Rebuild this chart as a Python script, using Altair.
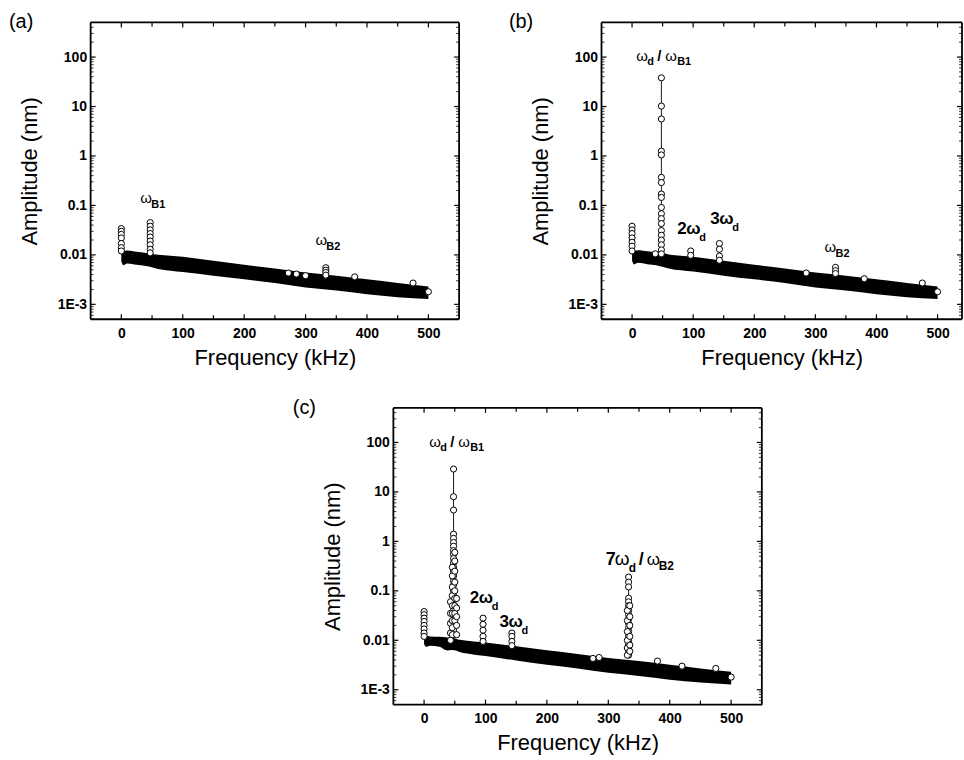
import altair as alt
import pandas as pd

FONT = "Liberation Sans"

# ---------------- data ----------------
# noise band (lower / upper envelope of the dense spectrum), panel (a)
band_freq_a = [0, 3, 10, 25, 45, 60, 100, 150, 200, 250, 300, 350, 400, 450, 500]
band_upper_a = [0.0112, 0.0120, 0.0123, 0.0116, 0.0107, 0.0101, 0.0092, 0.0076, 0.0063, 0.0053, 0.0044, 0.0038, 0.0032, 0.0027, 0.0023]
band_lower_a = [0.0074, 0.0062, 0.0067, 0.0063, 0.0058, 0.0052, 0.0045, 0.0038, 0.0032, 0.0027, 0.0022, 0.0019, 0.0016, 0.0014, 0.00128]

# panel (b)
band_freq_b = [0, 3, 10, 25, 40, 48, 60, 100, 150, 200, 250, 300, 350, 400, 450, 500]
band_upper_b = [0.0112, 0.0120, 0.0124, 0.0118, 0.0112, 0.0110, 0.0102, 0.0092, 0.0076, 0.0063, 0.0053, 0.0044, 0.0038, 0.0032, 0.0027, 0.0023]
band_lower_b = [0.0076, 0.0064, 0.0069, 0.0065, 0.0062, 0.0058, 0.0053, 0.0046, 0.0038, 0.0032, 0.0027, 0.0022, 0.0019, 0.0016, 0.0014, 0.00128]

# panel (c)
band_freq_c = [0, 3, 10, 25, 38, 45, 52, 58, 70, 100, 150, 200, 250, 300, 350, 400, 450, 500]
band_upper_c = [0.0128, 0.0125, 0.0120, 0.0118, 0.0114, 0.0112, 0.0108, 0.0102, 0.0098, 0.0090, 0.0076, 0.0063, 0.0053, 0.0044, 0.0038, 0.0032, 0.0027, 0.0023]
band_lower_c = [0.0084, 0.0074, 0.0078, 0.0074, 0.0062, 0.0064, 0.0062, 0.0058, 0.0054, 0.0048, 0.0039, 0.0032, 0.0027, 0.0022, 0.0019, 0.0016, 0.0014, 0.00128]

# peaks: (frequency kHz, amplitudes of the stacked circles)
peaks_a = [
    (0, [0.034, 0.030, 0.026, 0.022, 0.017, 0.014, 0.012]),
    (47, [0.045, 0.038, 0.032, 0.027, 0.023, 0.019, 0.016, 0.013, 0.011]),
    (333, [0.0055, 0.0049, 0.0044, 0.0039]),
]
peaks_b = [
    (0, [0.038, 0.032, 0.027, 0.022, 0.018, 0.015, 0.012]),
    (48, [38, 10.2, 5.6, 1.25, 1.05, 0.37, 0.29, 0.17, 0.145, 0.091, 0.068, 0.054, 0.043, 0.031, 0.025, 0.020, 0.016, 0.0126, 0.0105]),
    (96, [0.012, 0.0098]),
    (143, [0.017, 0.013, 0.0095, 0.0078]),
    (333, [0.0056, 0.0048, 0.0042]),
]
peaks_c = [
    (0, [0.038, 0.033, 0.028, 0.024, 0.020, 0.017, 0.014, 0.012]),
    (48, [29, 8, 4.3, 1.4, 1.15, 0.95, 0.8, 0.65, 0.55, 0.45, 0.37, 0.3, 0.25, 0.2, 0.16, 0.13, 0.1, 0.08, 0.065, 0.05, 0.04, 0.032, 0.025, 0.02, 0.016, 0.013]),
    (96, [0.028, 0.021, 0.016, 0.012, 0.0095]),
    (143, [0.014, 0.012, 0.0095, 0.0078]),
    (333, [0.19, 0.15, 0.12, 0.071, 0.06, 0.05, 0.04, 0.033, 0.027, 0.022, 0.018, 0.015, 0.012, 0.010, 0.0085, 0.007, 0.006, 0.005]),
]
# flanking circles of the broad peaks in (c)
sides_c = [
    (43, [0.06, 0.035, 0.022, 0.014, 0.010]),
    (46, [0.3, 0.2, 0.12, 0.08, 0.05, 0.035, 0.025, 0.018, 0.013]),
    (50, [0.6, 0.4, 0.25, 0.15, 0.1, 0.07, 0.05, 0.035, 0.025]),
    (53, [0.07, 0.045, 0.03, 0.02, 0.013]),
    (331, [0.04, 0.025, 0.015, 0.010, 0.007, 0.005]),
    (335, [0.05, 0.03, 0.02, 0.012, 0.008, 0.006]),
]
# isolated circles above the band
outliers_a = [(272, 0.0043), (285, 0.0041), (300, 0.0038), (380, 0.0036), (475, 0.0027), (500, 0.0018)]
outliers_b = [(38, 0.0105), (285, 0.0043), (380, 0.0033), (475, 0.0027), (500, 0.0018)]
outliers_c = [(275, 0.0043), (285, 0.0045), (380, 0.0038), (420, 0.0030), (475, 0.0027), (500, 0.0018)]

# annotation anchors: (kind, frequency, amplitude)
ann_a = [("w|B1", 31, 0.112), ("w|B2", 316, 0.016)]
ann_b = [("wd/w|B1", 7, 83), ("n|2", 74, 0.027), ("n|3", 128, 0.042), ("w|B2", 315, 0.0112)]
ann_c = [("wd/w|B1", 8.6, 80), ("n|2", 74.5, 0.0575), ("n|3", 123, 0.0189), ("7wd/w|B2", 296, 0.331)]

x_ticks = [0, 100, 200, 300, 400, 500]
x_minor = [50, 150, 250, 350, 450]
y_ticks = [0.001, 0.01, 0.1, 1, 10, 100]
y_minor = [k * 10.0 ** e for e in range(-4, 3) for k in range(2, 10) if 5e-4 <= k * 10.0 ** e <= 500]

H = 298


def segments(kind):
    name, sub = kind.split("|")
    if name == "w":
        return [("ω", 0, 0, 15, "normal"), (sub, 11, 5, 11, "bold")]
    if name == "wd/w":
        return [("ω", 0, 0, 15, "normal"), ("d", 11, 4, 11, "bold"), ("/", 21, 0, 15, "bold"),
                ("ω", 29, 0, 15, "normal"), (sub, 41, 4, 11, "bold")]
    if name == "n":
        return [(sub, 0, 0, 17, "bold"), ("ω", 9, 0, 17, "bold"), ("d", 22, 7, 11, "bold")]
    if name == "7wd/w":
        return [("7", 0, 0, 18, "bold"), ("ω", 9, 0, 19, "normal"), ("d", 23, 7, 12, "bold"),
                ("/", 33, 0, 18, "bold"), ("ω", 41, 0, 17, "normal"), (sub, 53, 5, 12, "bold")]
    return []


def panel(label, label_dx, W, xmax, bf, blo, bhi, peaks, sides, outliers, anns):
    xs = alt.Scale(domain=[-50, xmax], nice=False, zero=False)
    ys = alt.Scale(type="log", domain=[5e-4, 500], nice=False)
    xaxis = alt.Axis(values=x_ticks, format="d", title="Frequency (kHz)")
    yaxis = alt.Axis(values=y_ticks, title="Amplitude (nm)",
                     labelExpr="datum.value < 0.005 ? '1E-3' : format(datum.value, '~g')")

    def X():
        return alt.X("f:Q", scale=xs, axis=xaxis)

    def Y():
        return alt.Y("amp:Q", scale=ys, axis=yaxis)

    band_df = pd.DataFrame({"f": bf, "amp": blo, "amp2": bhi})
    layers = [
        alt.Chart(band_df).mark_area(color="black", opacity=1, interpolate="monotone")
        .encode(x=X(), y=Y(), y2=alt.Y2("amp2:Q"))
    ]
    line_rows, pt_rows = [], []
    for i, (f, amps) in enumerate(peaks):
        for a in amps:
            line_rows.append({"f": f, "amp": a, "pid": i})
            pt_rows.append({"f": f, "amp": a})
    for f, amps in sides:
        for a in amps:
            pt_rows.append({"f": f, "amp": a})
    for f, a in outliers:
        pt_rows.append({"f": f, "amp": a})
    layers.append(
        alt.Chart(pd.DataFrame(line_rows)).mark_line(color="black", strokeWidth=0.9)
        .encode(x=X(), y=Y(), detail="pid:N", order="amp:Q")
    )
    layers.append(
        alt.Chart(pd.DataFrame(pt_rows)).mark_point(shape="circle", size=38, filled=True, fill="white",
                                                     stroke="black", strokeWidth=1, opacity=1)
        .encode(x=X(), y=Y())
    )
    # inward ticks on all four sides
    xt = pd.DataFrame({"f": x_ticks})
    xm = pd.DataFrame({"f": x_minor})
    yt = pd.DataFrame({"amp": y_ticks})
    ym = pd.DataFrame({"amp": y_minor})
    rule = dict(color="black", strokeWidth=1.2)
    layers += [
        alt.Chart(xt).mark_rule(**rule).encode(x=X(), y=alt.value(H), y2=alt.value(H - 5)),
        alt.Chart(xt).mark_rule(**rule).encode(x=X(), y=alt.value(0), y2=alt.value(5)),
        alt.Chart(xm).mark_rule(**rule).encode(x=X(), y=alt.value(H), y2=alt.value(H - 4)),
        alt.Chart(xm).mark_rule(**rule).encode(x=X(), y=alt.value(0), y2=alt.value(4)),
        alt.Chart(yt).mark_rule(**rule).encode(y=Y(), x=alt.value(0), x2=alt.value(5)),
        alt.Chart(yt).mark_rule(**rule).encode(y=Y(), x=alt.value(W), x2=alt.value(W - 5)),
        alt.Chart(ym).mark_rule(color="black", strokeWidth=0.8).encode(y=Y(), x=alt.value(0), x2=alt.value(3)),
        alt.Chart(ym).mark_rule(color="black", strokeWidth=0.8).encode(y=Y(), x=alt.value(W), x2=alt.value(W - 3)),
    ]
    # frame: four rules
    one = pd.DataFrame({"t": [0]})
    frame = dict(color="black", strokeWidth=1.8)
    layers += [
        alt.Chart(one).mark_rule(**frame).encode(x=alt.value(0), x2=alt.value(W), y=alt.value(0), y2=alt.value(0)),
        alt.Chart(one).mark_rule(**frame).encode(x=alt.value(0), x2=alt.value(W), y=alt.value(H), y2=alt.value(H)),
        alt.Chart(one).mark_rule(**frame).encode(x=alt.value(0), x2=alt.value(0), y=alt.value(0), y2=alt.value(H)),
        alt.Chart(one).mark_rule(**frame).encode(x=alt.value(W), x2=alt.value(W), y=alt.value(0), y2=alt.value(H)),
    ]
    # annotations
    for kind, f, a in anns:
        adf = pd.DataFrame({"f": [f], "amp": [a]})
        for text, dx, dy, size, weight in segments(kind):
            layers.append(
                alt.Chart(adf).mark_text(text=text, align="left", baseline="alphabetic", dx=dx, dy=dy,
                                         fontSize=size, fontWeight=weight, font=FONT, color="black")
                .encode(x=X(), y=Y())
            )
    # panel label
    layers.append(
        alt.Chart(pd.DataFrame({"t": [label]})).mark_text(align="left", baseline="middle", fontSize=20,
                                                          font=FONT, color="black")
        .encode(text="t:N", x=alt.value(label_dx), y=alt.value(0))
    )
    return alt.layer(*layers).properties(width=W, height=H)


pa = panel("(a)", -82, 370, 550, band_freq_a, band_lower_a, band_upper_a, peaks_a, [], outliers_a, ann_a)
pb = panel("(b)", -93, 362, 540, band_freq_b, band_lower_b, band_upper_b, peaks_b, [], outliers_b, ann_b)
pc = panel("(c)", -101, 370, 550, band_freq_c, band_lower_c, band_upper_c, peaks_c, sides_c, outliers_c, ann_c)

spacer = alt.Chart(pd.DataFrame({"z": [0]})).mark_point(opacity=0).encode(
    x=alt.X("z:Q", axis=None), y=alt.Y("z:Q", axis=None)
).properties(width=201, height=H, view=alt.ViewBackground(stroke="transparent"))

top = alt.hconcat(pa, pb, spacing=47)
bottom = alt.hconcat(spacer, pc, spacing=0)

chart = alt.vconcat(top, bottom, spacing=28).properties(
    padding={"left": 8, "top": 10, "right": 0, "bottom": 0}
).configure_view(
    stroke="transparent"
).configure_axis(
    grid=False, domain=False, ticks=False, labelOverlap=False,
    labelFont=FONT, labelFontSize=14, labelFontWeight="bold", labelColor="black",
    titleFont=FONT, titleFontSize=22, titleFontWeight="normal", titleColor="black",
).configure_axisX(labelPadding=7, titlePadding=7).configure_axisY(labelPadding=4, titlePadding=16)

chart.save("out.html", embed_options={"renderer": "svg", "actions": False})
